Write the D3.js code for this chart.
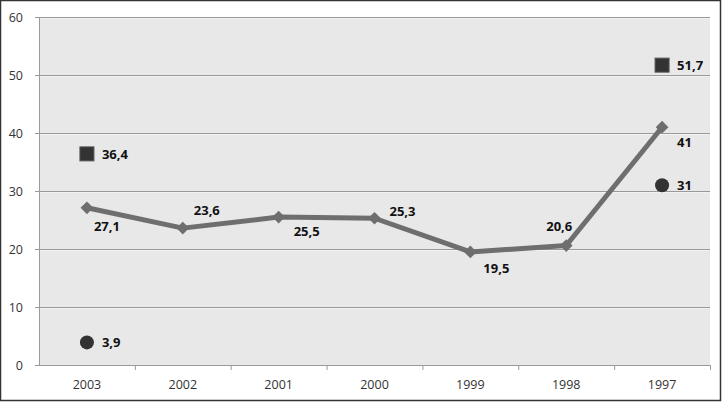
<!DOCTYPE html>
<html>
<head>
<meta charset="utf-8">
<script src="https://cdn.jsdelivr.net/npm/d3@7"></script>
<style>
  body { margin: 0; background: #fff; }
  svg { display: block; }
</style>
</head>
<body>
<div id="chart"></div>
<script>
// chart data
var years = ["2003", "2002", "2001", "2000", "1999", "1998", "1997"];
var lineValues = [27.1, 23.6, 25.5, 25.3, 19.5, 20.6, 41];
var squareValues = [36.4, null, null, null, null, null, 51.7];
var circleValues = [3.9, null, null, null, null, null, 31];
var yTicks = [0, 10, 20, 30, 40, 50, 60];

// label nudges for the line series (dx, dy from the point)
var lineLabelDx = [7, 11, 15, 15, 13, -20, 15];
var lineLabelDy = [23, -13, 19, -2, 21, -15, 20];

var svgWidth = 726;
var svgHeight = 403;
var margin = { top: 17, right: 16, bottom: 38, left: 39 };
var width = svgWidth - margin.left - margin.right;
var height = svgHeight - margin.top - margin.bottom;

var svg = d3.select("#chart")
  .append("svg")
  .attr("width", svgWidth)
  .attr("height", svgHeight);

// outer frame
svg.append("rect")
  .attr("x", 0.5).attr("y", 0.5)
  .attr("width", 720).attr("height", 400)
  .attr("fill", "#fff")
  .attr("stroke", "#333")
  .attr("stroke-width", 1.5);

var chartGroup = svg.append("g")
  .attr("transform", `translate(${margin.left}, ${margin.top})`);

var xScale = d3.scaleBand()
  .domain(years)
  .range([0, width]);

var yScale = d3.scaleLinear()
  .domain([0, 60])
  .range([height, 0]);

// plot background
chartGroup.append("rect")
  .attr("width", width)
  .attr("height", height)
  .attr("fill", "#e8e8e8");

// gridlines
yTicks.forEach(function(t) {
  if (t === 0) return;
  chartGroup.append("line")
    .attr("x1", 0).attr("x2", width)
    .attr("y1", yScale(t) + 0.5).attr("y2", yScale(t) + 0.5)
    .attr("stroke", "#9a9a9a");
  chartGroup.append("line")
    .attr("x1", 0).attr("x2", width)
    .attr("y1", yScale(t) + 1.5).attr("y2", yScale(t) + 1.5)
    .attr("stroke", "#f2f2f2");
});

// axes
var leftAxis = d3.axisLeft(yScale).tickValues(yTicks).tickSize(4).tickPadding(12);
var yAxisG = chartGroup.append("g").call(leftAxis);
yAxisG.select(".domain").attr("stroke", "#9a9a9a");
yAxisG.selectAll(".tick line").attr("stroke", "#9a9a9a");
yAxisG.selectAll("text")
  .style("font-family", "'Open Sans', sans-serif")
  .style("font-size", "12.5px")
  .attr("fill", "#333");

var xAxisG = chartGroup.append("g")
  .attr("transform", `translate(0, ${height})`);
xAxisG.append("line")
  .attr("x1", 0).attr("x2", width)
  .attr("y1", 0.5).attr("y2", 0.5)
  .attr("stroke", "#9a9a9a");
xAxisG.selectAll(".sep")
  .data(years)
  .enter()
  .append("line")
  .attr("x1", d => xScale(d) + xScale.bandwidth() + 0.5)
  .attr("x2", d => xScale(d) + xScale.bandwidth() + 0.5)
  .attr("y1", 0).attr("y2", 5)
  .attr("stroke", "#9a9a9a");
xAxisG.selectAll(".xlab")
  .data(years)
  .enter()
  .append("text")
  .attr("x", d => xScale(d) + xScale.bandwidth() / 2)
  .attr("y", 24)
  .attr("text-anchor", "middle")
  .style("font-family", "'Open Sans', sans-serif")
  .style("font-size", "12.5px")
  .attr("fill", "#333")
  .text(d => d);

var cx = function(i) { return xScale(years[i]) + xScale.bandwidth() / 2; };
var fmt = function(v) { return String(v).replace(".", ","); };

// main line
var line = d3.line()
  .x((d, i) => cx(i))
  .y(d => yScale(d));

chartGroup.append("path")
  .datum(lineValues)
  .attr("d", line)
  .attr("fill", "none")
  .attr("stroke", "#6e6e6e")
  .attr("stroke-width", 5)
  .attr("stroke-linejoin", "round");

chartGroup.selectAll(".diamond")
  .data(lineValues)
  .enter()
  .append("rect")
  .attr("x", -4.5).attr("y", -4.5)
  .attr("width", 9).attr("height", 9)
  .attr("transform", (d, i) => `translate(${cx(i)}, ${yScale(d)}) rotate(45)`)
  .attr("fill", "#6e6e6e");

var labelStyle = function(sel) {
  sel.style("font-family", "'Open Sans', sans-serif")
    .style("font-size", "13px")
    .style("font-weight", "bold")
    .attr("fill", "#111");
};

chartGroup.selectAll(".lineLabel")
  .data(lineValues)
  .enter()
  .append("text")
  .attr("x", (d, i) => cx(i) + lineLabelDx[i])
  .attr("y", (d, i) => yScale(d) + lineLabelDy[i])
  .call(labelStyle)
  .text(d => fmt(d));

// square series
var squares = squareValues.map((v, i) => ({ v: v, i: i })).filter(d => d.v !== null);
chartGroup.selectAll(".square")
  .data(squares)
  .enter()
  .append("rect")
  .attr("x", d => cx(d.i) - 7)
  .attr("y", d => yScale(d.v) - 7)
  .attr("width", 14).attr("height", 14)
  .attr("fill", "#333")
  .attr("stroke", "#555");

chartGroup.selectAll(".squareLabel")
  .data(squares)
  .enter()
  .append("text")
  .attr("x", d => cx(d.i) + 15)
  .attr("y", d => yScale(d.v) + 5)
  .call(labelStyle)
  .text(d => fmt(d.v));

// circle series
var circles = circleValues.map((v, i) => ({ v: v, i: i })).filter(d => d.v !== null);
chartGroup.selectAll(".dot")
  .data(circles)
  .enter()
  .append("circle")
  .attr("cx", d => cx(d.i))
  .attr("cy", d => yScale(d.v))
  .attr("r", 7)
  .attr("fill", "#333");

chartGroup.selectAll(".dotLabel")
  .data(circles)
  .enter()
  .append("text")
  .attr("x", d => cx(d.i) + 15)
  .attr("y", d => yScale(d.v) + 5)
  .call(labelStyle)
  .text(d => fmt(d.v));
</script>
</body>
</html>
